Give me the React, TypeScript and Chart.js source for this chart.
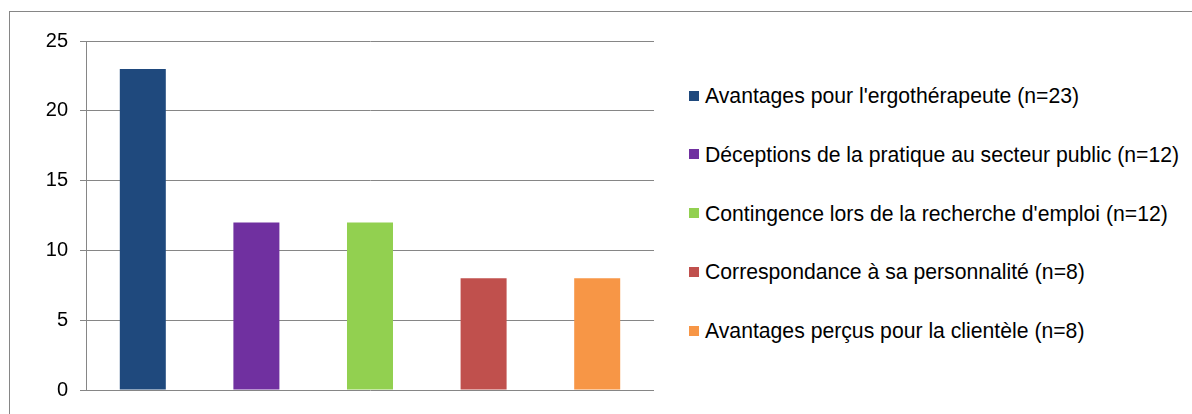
import React, { useEffect, useRef } from "react";
import { Chart, registerables } from "chart.js";

Chart.register(...registerables);

const categories: string[] = [
  "Avantages pour l'ergothérapeute (n=23)",
  "Déceptions de la pratique au secteur public (n=12)",
  "Contingence lors de la recherche d'emploi (n=12)",
  "Correspondance à sa personnalité (n=8)",
  "Avantages perçus pour la clientèle (n=8)",
];
const values: number[] = [23, 12, 12, 8, 8];
const colors: string[] = ["#1F497D", "#7030A0", "#92D050", "#C0504D", "#F79646"];
const yTicks: number[] = [0, 5, 10, 15, 20, 25];

const FONT = "'Liberation Sans', Arial, sans-serif";
const GRID = "#868686";

export default function App() {
  const ref = useRef<HTMLCanvasElement | null>(null);

  useEffect(() => {
    if (!ref.current) return;
    const chart = new Chart(ref.current, {
      type: "bar",
      data: {
        labels: categories,
        datasets: [
          {
            data: values,
            backgroundColor: colors,
            borderWidth: 0,
            categoryPercentage: 1,
            barPercentage: 0.405,
          },
        ],
      },
      options: {
        animation: false,
        responsive: false,
        devicePixelRatio: 1,
        layout: { padding: { top: 41, bottom: 23, left: 0, right: 16 } },
        plugins: { legend: { display: false }, tooltip: { enabled: false } },
        scales: {
          x: { display: false },
          y: {
            min: yTicks[0],
            max: yTicks[yTicks.length - 1],
            afterBuildTicks: (scale: any) => {
              scale.ticks = yTicks.map((v) => ({ value: v }));
            },
            afterFit: (scale: any) => {
              scale.width = 86;
            },
            ticks: {
              stepSize: 5,
              padding: 12,
              color: "#000",
              font: { family: FONT, size: 20 },
            },
            grid: { color: GRID, lineWidth: 1, tickLength: 6 },
            border: { color: GRID, width: 1 },
          },
        },
      },
    });
    return () => chart.destroy();
  }, []);

  const rowCenters = [95.5, 154.3, 213, 271.8, 330.6];

  return (
    <div
      style={{
        position: "fixed",
        left: 0,
        top: 0,
        width: 1192,
        height: 414,
        overflow: "hidden",
        background: "#fff",
      }}
    >
      <div
        style={{
          position: "absolute",
          left: 9,
          top: 11,
          width: 1400,
          height: 600,
          border: `1px solid ${GRID}`,
          boxSizing: "border-box",
        }}
      />
      <canvas
        ref={ref}
        width={670}
        height={414}
        style={{ position: "absolute", left: 0, top: 0, width: 670, height: 414 }}
      />
      {categories.map((c, i) => (
        <div key={c}>
          <div
            style={{
              position: "absolute",
              left: 689,
              top: rowCenters[i] - 5,
              width: 10,
              height: 10,
              background: colors[i],
            }}
          />
          <div
            style={{
              position: "absolute",
              left: 705,
              top: rowCenters[i] - 10.5,
              height: 21,
              lineHeight: "21px",
              fontFamily: FONT,
              fontSize: 21.2,
              color: "#000",
              whiteSpace: "nowrap",
            }}
          >
            {c}
          </div>
        </div>
      ))}
    </div>
  );
}
